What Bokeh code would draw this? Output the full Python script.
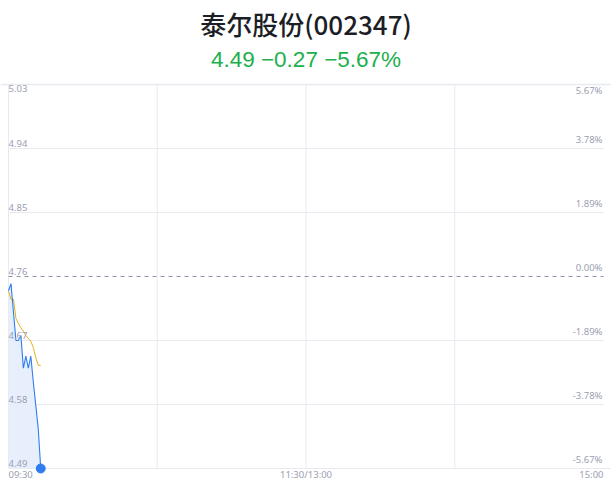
from bokeh.plotting import figure
from bokeh.models import Label, Span, Range1d, ColumnDataSource
from bokeh.embed import file_html
from bokeh.resources import INLINE

# ---- data ----
title_text = "泰尔股份(002347)"
subtitle_text = "4.49 −0.27 −5.67%"
prev_close = 4.76
minutes = [0, 1, 2, 3, 4, 5, 6, 7, 8, 9, 10, 11, 12, 13]
price = [4.740, 4.750, 4.710, 4.670, 4.670, 4.677, 4.631, 4.648, 4.631, 4.648, 4.612, 4.579, 4.546, 4.490]
avg_price = [4.739, 4.728, 4.728, 4.701, 4.694, 4.688, 4.683, 4.677, 4.673, 4.669, 4.660, 4.646, 4.635, 4.635]
y_ticks = [5.03, 4.94, 4.85, 4.76, 4.67, 4.58, 4.49]
y_left_labels = ["5.03", "4.94", "4.85", "4.76", "4.67", "4.58", "4.49"]
y_right_labels = ["5.67%", "3.78%", "1.89%", "0.00%", "-1.89%", "-3.78%", "-5.67%"]
x_ticks = [0, 120, 240]
x_labels = ["09:30", "11:30/13:00", "15:00"]
x_grid = [60, 120, 180]

# ---- layout / style ----
W, H = 611, 492
LEFT, RIGHT, TOP, BOTTOM = 8, 603, 84, 468   # plot-area pixel box
x_lo, x_hi = 0, 240
y_lo, y_hi = 4.49, 5.03
kx = (x_hi - x_lo) / (RIGHT - LEFT)
ky = (y_hi - y_lo) / (BOTTOM - TOP)
GRID = "#e8eaf0"
TICK = "#9aa0b2"

p = figure(width=W, height=H, output_backend="svg", toolbar_location=None,
           x_range=Range1d(x_lo - LEFT * kx, x_hi + (W - RIGHT) * kx),
           y_range=Range1d(y_lo - (H - BOTTOM) * ky, y_hi + TOP * ky),
           x_axis_location=None, y_axis_location=None,
           min_border_left=0, min_border_right=0, min_border_top=0, min_border_bottom=0)
p.outline_line_color = None
p.xgrid.visible = False
p.ygrid.visible = False
p.background_fill_color = "white"
p.border_fill_color = "white"

# grid
h_lines = [t for t in y_ticks if t not in (prev_close, y_hi, y_lo)]
p.segment(x0=[x_lo] * len(h_lines), x1=[x_hi] * len(h_lines), y0=h_lines, y1=h_lines,
          line_color=GRID, line_width=1)
p.segment(x0=x_grid, x1=x_grid, y0=[y_lo] * len(x_grid), y1=[y_hi] * len(x_grid),
          line_color=GRID, line_width=1)
p.segment(x0=[x_lo], x1=[x_lo], y0=[y_lo], y1=[y_hi], line_color=GRID, line_width=1)
p.segment(x0=[x_lo], x1=[x_hi + (W - RIGHT) * kx], y0=[y_lo], y1=[y_lo], line_color=GRID, line_width=1)
p.add_layout(Span(location=y_hi, dimension="width", line_color=GRID, line_width=1.5))
p.segment(x0=[x_lo], x1=[x_hi], y0=[prev_close], y1=[prev_close], line_color="#8e94a8",
          line_width=1, line_dash="4 4")

src = ColumnDataSource(dict(x=minutes, price=price, avg=avg_price, base=[y_lo] * len(minutes)))
p.varea(x="x", y1="base", y2="price", source=src, fill_color="#e3ecfb", fill_alpha=0.85)
p.line(x="x", y="avg", source=src, line_color="#e0b31f", line_width=1)
p.line(x="x", y="price", source=src, line_color="#2f7cf0", line_width=1.1)
p.scatter(x=[minutes[-1]], y=[price[-1]], size=9, fill_color="#2f7cf0", line_color="#2f7cf0")

# tick labels
for i, (t, ll, rl) in enumerate(zip(y_ticks, y_left_labels, y_right_labels)):
    base = "top" if i == 0 else "bottom"
    off = 0 if i == 0 else 2
    p.add_layout(Label(x=x_lo, y=t, text=ll, text_align="left", text_baseline=base, x_offset=0,
                       y_offset=off, text_font="Noto Sans", text_font_size="9.5px", text_color=TICK))
    p.add_layout(Label(x=x_hi, y=t, text=rl, text_align="right", text_baseline=base, x_offset=-1,
                       y_offset=off + 1, text_font="Noto Sans", text_font_size="9.5px", text_color=TICK))

aligns = ["left", "center", "right"]
for xt, xl, al in zip(x_ticks, x_labels, aligns):
    p.add_layout(Label(x=xt, y=y_lo, text=xl, text_align=al, text_baseline="middle", y_offset=-6,
                       text_font="Noto Sans", text_font_size="9.5px", text_color=TICK))

p.add_layout(Label(x=(x_lo + x_hi) / 2, y=y_hi, text=title_text, text_align="center",
                   text_baseline="middle", y_offset=61, x_offset=0,
                   text_font="'Noto Sans CJK SC Medium', 'Noto Sans CJK SC'",
                   text_font_size="26px", text_color="#1c1e26"))
p.add_layout(Label(x=(x_lo + x_hi) / 2, y=y_hi, text=subtitle_text, text_align="center",
                   text_baseline="middle", y_offset=25, x_offset=0, text_font="Liberation Sans",
                   text_font_size="22.5px", text_color="#20b04b"))

open("out.html", "w").write(file_html(p, INLINE))
